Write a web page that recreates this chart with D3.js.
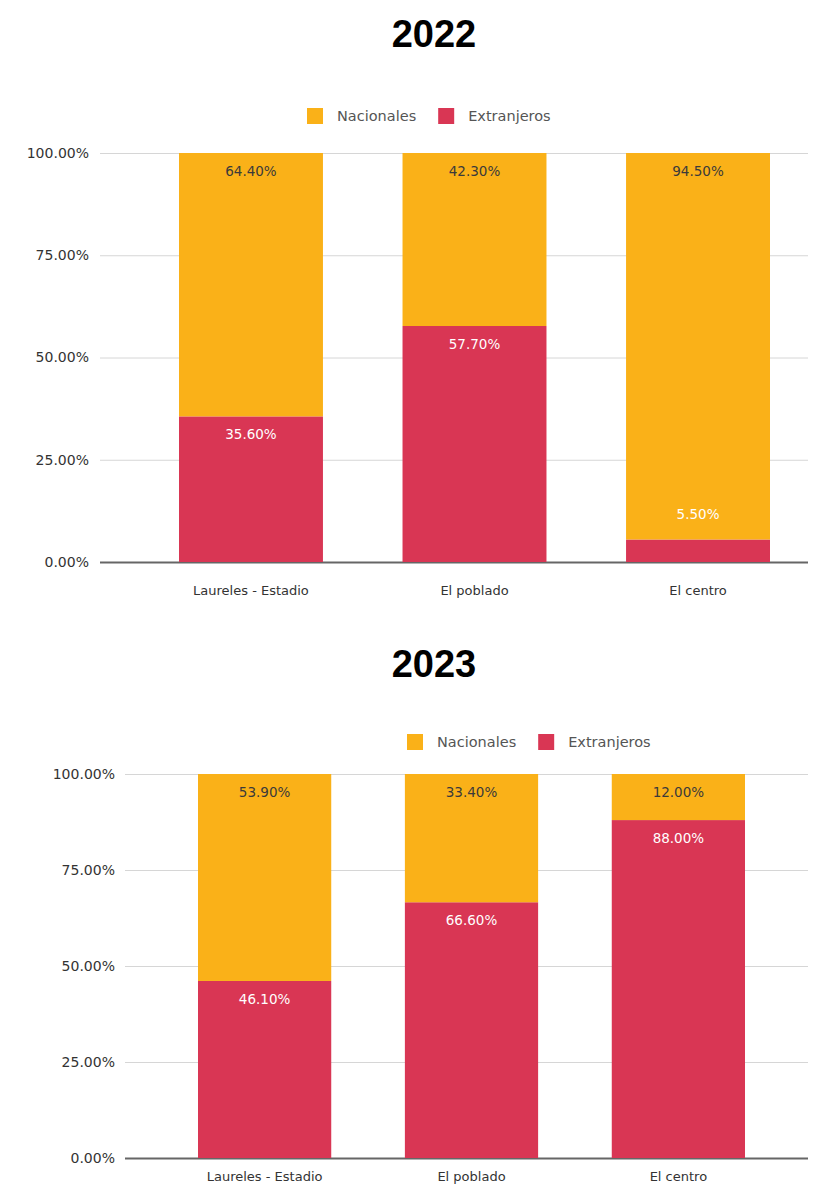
<!DOCTYPE html>
<html>
<head>
<meta charset="utf-8">
<script src="https://cdn.jsdelivr.net/npm/d3@7"></script>
<style>
  html, body { margin: 0; padding: 0; background: #ffffff; }
  svg { display: block; }
</style>
</head>
<body>
<svg id="chart" width="823" height="1184"></svg>
<script>
// Share of visitors by zone, nationals vs. foreigners (percent)
const categories = ["Laureles - Estadio", "El poblado", "El centro"];
const seriesNames = ["Nacionales", "Extranjeros"];
const nacionales2022 = [64.4, 42.3, 94.5];
const extranjeros2022 = [35.6, 57.7, 5.5];
const nacionales2023 = [53.9, 33.4, 12.0];
const extranjeros2023 = [46.1, 66.6, 88.0];
const yTicks = [0, 25, 50, 75, 100];
const years = ["2022", "2023"];

const colors = { Nacionales: "#fab118", Extranjeros: "#d93654" };
const labelColors = { Nacionales: "#3a3a3a", Extranjeros: "#ffffff" };

const svg = d3.select("#chart");
const FONT = "'DejaVu Sans', sans-serif";

function drawPanel(cfg) {
  const g = svg.append("g");

  // Title
  g.append("text")
    .attr("x", cfg.titleX).attr("y", cfg.titleY)
    .attr("text-anchor", "middle")
    .style("font-family", "'Liberation Sans', Arial, sans-serif")
    .style("font-weight", "bold")
    .style("font-size", "38px")
    .attr("fill", "#000")
    .text(cfg.title);

  // Legend
  let lx = cfg.legendX;
  seriesNames.forEach(name => {
    g.append("rect")
      .attr("x", lx).attr("y", cfg.legendY - 8)
      .attr("width", 16).attr("height", 16)
      .attr("fill", colors[name]);
    const t = g.append("text")
      .attr("x", lx + 30).attr("y", cfg.legendY)
      .attr("dominant-baseline", "central")
      .style("font-family", FONT)
      .style("font-size", "14.5px")
      .attr("fill", "#555")
      .text(name);
    lx += 30 + t.node().getComputedTextLength() + 22;
  });

  // Scales
  const y = d3.scaleLinear().domain([0, 100]).range([cfg.bottom, cfg.top]);
  const x = d3.scaleBand().domain(categories)
    .range(cfg.barRange).paddingInner(cfg.pad).paddingOuter(0);

  // Grid lines + y tick labels
  const yAxis = d3.axisLeft(y).tickValues(yTicks)
    .tickSize(-(cfg.gridRange[1] - cfg.gridRange[0]))
    .tickPadding(cfg.gridRange[0] - cfg.tickLabelX)
    .tickFormat(d => d3.format(".2f")(d) + "%");
  const ya = g.append("g")
    .attr("transform", `translate(${cfg.gridRange[0]},0)`)
    .call(yAxis);
  ya.select(".domain").remove();
  ya.selectAll(".tick line")
    .attr("stroke", d => d === 0 ? "#666" : "#d6d6d6")
    .attr("stroke-width", d => d === 0 ? 2 : 1);
  ya.selectAll(".tick text")
    .style("font-family", FONT)
    .style("font-size", "14px")
    .attr("fill", "#333");

  // Stacked bars
  const rows = categories.map((c, i) => ({
    cat: c, Nacionales: cfg.nac[i], Extranjeros: cfg.ext[i]
  }));
  const stacked = d3.stack().keys(["Extranjeros", "Nacionales"])(rows);

  stacked.forEach(layer => {
    const key = layer.key;
    g.append("g").selectAll("rect")
      .data(layer)
      .join("rect")
      .attr("x", d => x(d.data.cat))
      .attr("width", x.bandwidth())
      .attr("y", d => y(d[1]))
      .attr("height", d => y(d[0]) - y(d[1]))
      .attr("fill", colors[key]);
  });

  // Value labels at the top of each segment
  stacked.forEach(layer => {
    const key = layer.key;
    g.append("g").selectAll("text")
      .data(layer)
      .join("text")
      .attr("x", d => x(d.data.cat) + x.bandwidth() / 2)
      .attr("y", d => {
        const h = y(d[0]) - y(d[1]);
        return h < 26 ? y(d[1]) - 26 : y(d[1]) + 18;
      })
      .attr("text-anchor", "middle")
      .attr("dominant-baseline", "central")
      .style("font-family", FONT)
      .style("font-size", "13.5px")
      .attr("fill", labelColors[key])
      .text(d => d3.format(".2f")(d.data[key]) + "%");
  });

  // Category labels
  g.append("g").selectAll("text")
    .data(categories)
    .join("text")
    .attr("x", c => x(c) + x.bandwidth() / 2)
    .attr("y", cfg.xLabelY)
    .attr("text-anchor", "middle")
    .attr("dominant-baseline", "central")
    .style("font-family", FONT)
    .style("font-size", "13px")
    .attr("fill", "#333")
    .text(c => c);
}

drawPanel({
  title: years[0], titleX: 434, titleY: 47,
  legendX: 307, legendY: 116,
  top: 153, bottom: 562,
  gridRange: [100, 808], tickLabelX: 89,
  barRange: [179, 770], pad: 0.356,
  xLabelY: 590,
  nac: nacionales2022, ext: extranjeros2022
});

drawPanel({
  title: years[1], titleX: 434, titleY: 677,
  legendX: 407, legendY: 742,
  top: 774, bottom: 1158,
  gridRange: [125, 808], tickLabelX: 115,
  barRange: [198, 745], pad: 0.356,
  xLabelY: 1176,
  nac: nacionales2023, ext: extranjeros2023
});
</script>
</body>
</html>
